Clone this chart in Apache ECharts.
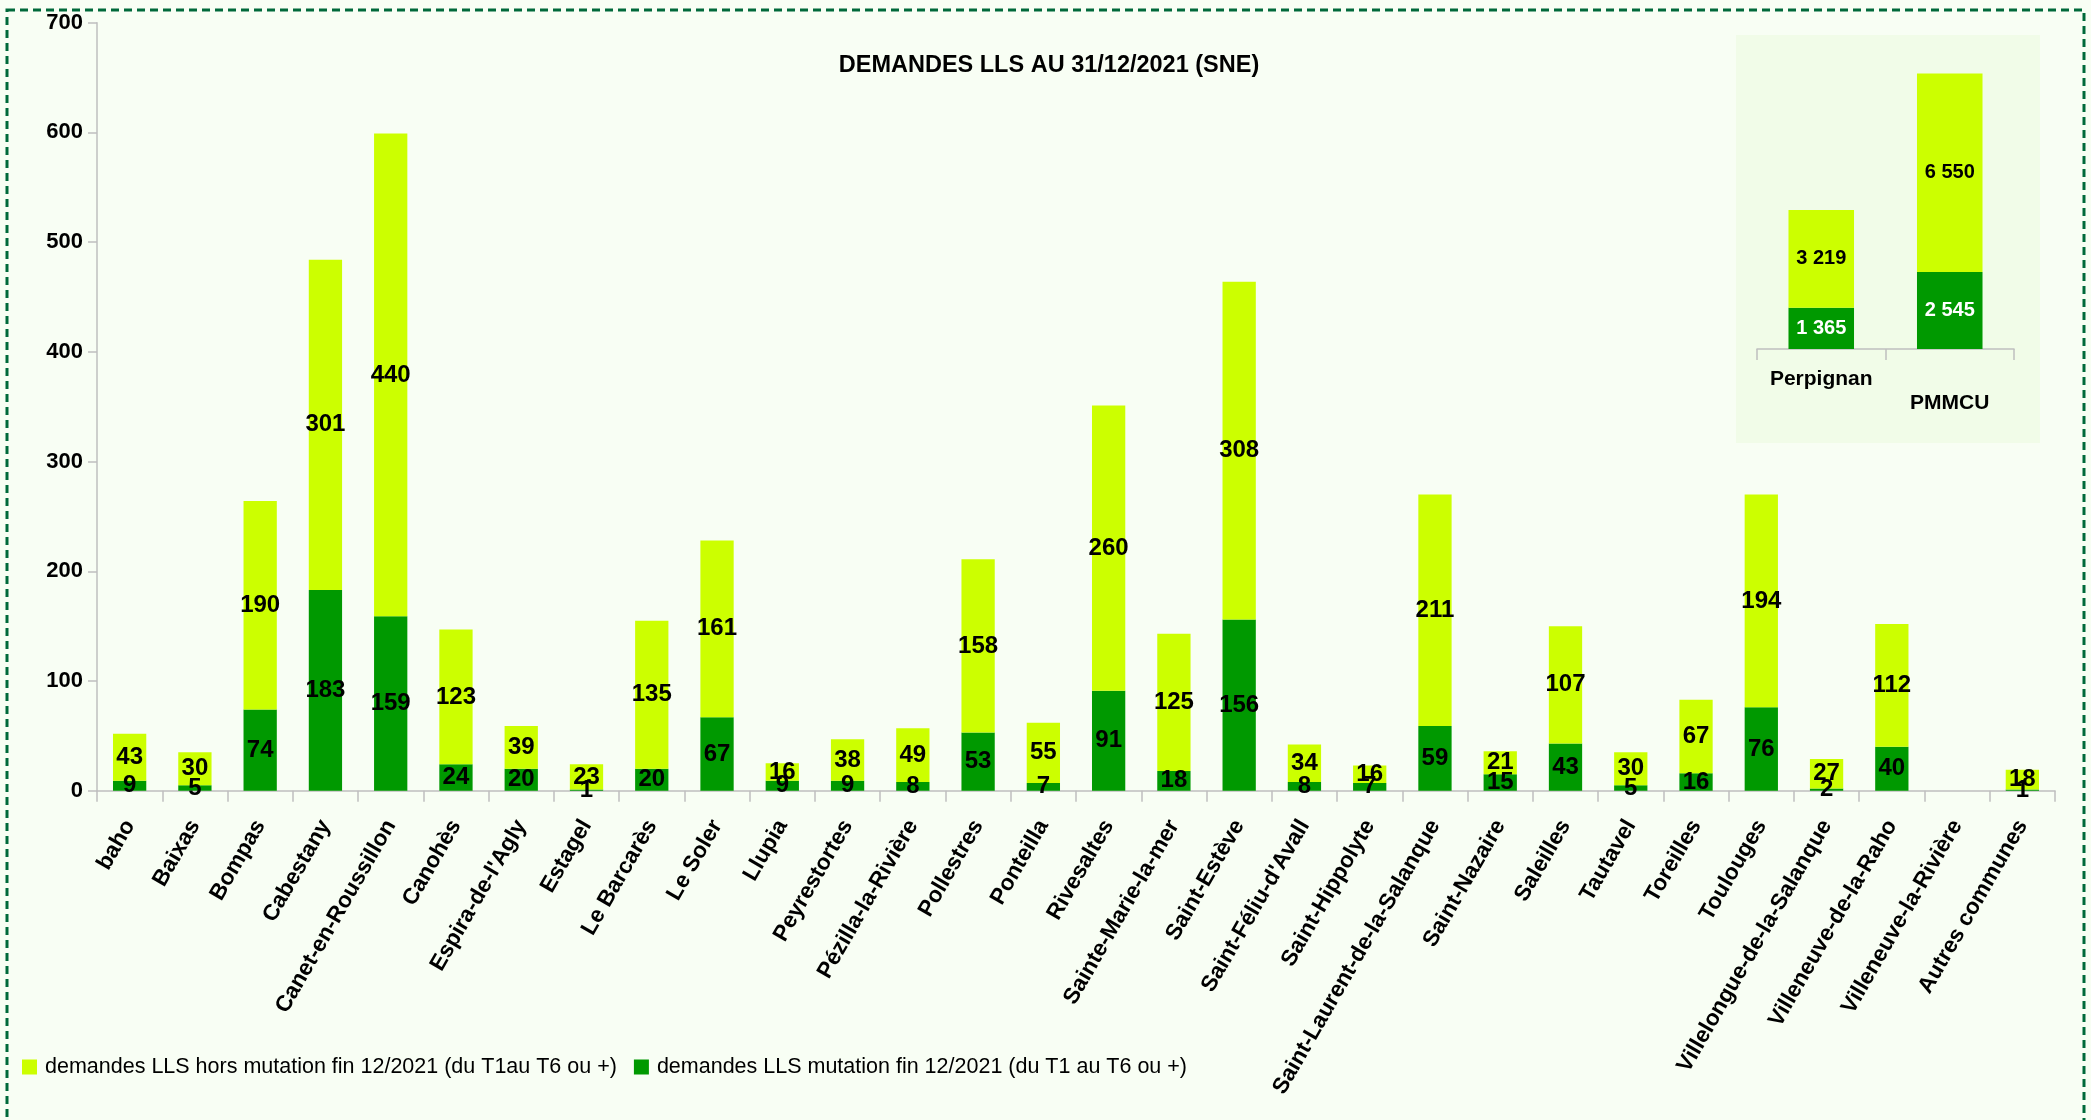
<!DOCTYPE html>
<html>
<head>
<meta charset="utf-8">
<script src="https://cdn.jsdelivr.net/npm/echarts@6/dist/echarts.min.js"></script>
<style>
html,body{margin:0;padding:0;background:#F8FEF4;}
#chart{width:2091px;height:1120px;}
</style>
</head>
<body>
<div id="chart"></div>
<script>
const categories = ['baho','Baixas','Bompas','Cabestany','Canet-en-Roussillon','Canohès','Espira-de-l\'Agly','Estagel','Le Barcarès','Le Soler','Llupia','Peyrestortes','Pézilla-la-Rivière','Pollestres','Ponteilla','Rivesaltes','Sainte-Marie-la-mer','Saint-Estève','Saint-Féliu-d\'Avall','Saint-Hippolyte','Saint-Laurent-de-la-Salanque','Saint-Nazaire','Saleilles','Tautavel','Toreilles','Toulouges','Villelongue-de-la-Salanque','Villeneuve-de-la-Raho','Villeneuve-la-Rivière','Autres communes'];
const mutation = [9,5,74,183,159,24,20,1,20,67,9,9,8,53,7,91,18,156,8,7,59,15,43,5,16,76,2,40,0,1];
const horsMutation = [43,30,190,301,440,123,39,23,135,161,16,38,49,158,55,260,125,308,34,16,211,21,107,30,67,194,27,112,0,18];
const insetCategories = ['Perpignan','PMMCU'];
const insetMutation = [1365,2545];
const insetHorsMutation = [3219,6550];
const yTicks = [0,100,200,300,400,500,600,700];

const seriesNames = ['demandes LLS hors mutation fin 12/2021 (du T1au T6 ou +)','demandes LLS mutation fin 12/2021 (du T1 au T6 ou +)'];
const YELLOW = '#CCFF00', GREEN = '#009900';
const FONT = '"Liberation Sans",Arial,sans-serif';

function fmtThousands(v){ return String(v).replace(/\B(?=(\d{3})+(?!\d))/g,' '); }

const chart = echarts.init(document.getElementById('chart'));
const option = {
  backgroundColor: '#F8FEF4',
  animation: false,
  title: {
    text: 'DEMANDES LLS AU 31/12/2021 (SNE)',
    left: 1044, top: 49, textAlign: 'center',
    textStyle: {fontFamily: FONT, fontSize: 23.5, fontWeight: 'bold', color: '#000'}
  },
  legend: {
    left: 17, top: 1051, itemWidth: 15, itemHeight: 15, itemGap: 17,
    icon: 'rect',
    data: seriesNames,
    textStyle: {fontFamily: FONT, fontSize: 21.5, color: '#000', padding: [0,0,0,3]}
  },
  graphic: [
    {type:'rect', z:-10, shape:{x:1736,y:35,width:304,height:408}, style:{fill:'#F1FCE8'}},
    {type:'rect', z:100, shape:{x:7,y:10,width:2077,height:1200}, style:{fill:'none', stroke:'#00693A', lineWidth:3, lineDash:[8,5]}}
  ],
  grid: [
    {left: 97, right: 36, top: 22.7, bottom: 329.3, outerBoundsMode: 'none', containLabel: false},
    {left: 1757, width: 257, top: 46, bottom: 771, outerBoundsMode: 'none', containLabel: false}
  ],
  xAxis: [
    {
      type: 'category', gridIndex: 0, data: categories,
      axisLine: {lineStyle: {color: '#BFBFBF', width: 1.5}},
      axisTick: {show: true, interval: 0, length: 11, lineStyle: {color: '#BFBFBF', width: 1.5}},
      axisLabel: {interval: 0, rotate: 60, margin: 31, fontFamily: FONT, fontSize: 22.5, fontWeight: 'bold', color: '#000'}
    },
    {
      type: 'category', gridIndex: 1, data: insetCategories,
      axisLine: {lineStyle: {color: '#BFBFBF', width: 1.5}},
      axisTick: {show: true, interval: 0, length: 11, lineStyle: {color: '#BFBFBF', width: 1.5}},
      axisLabel: {interval: 0, margin: 18, lineHeight: 24, fontFamily: FONT, fontSize: 21, fontWeight: 'bold', color: '#000',
        formatter: (v, i) => i % 2 ? '\n' + v : v}
    }
  ],
  yAxis: [
    {
      type: 'value', gridIndex: 0, min: yTicks[0], max: yTicks[yTicks.length-1], interval: 100,
      splitLine: {show: false},
      axisLine: {show: true, lineStyle: {color: '#BFBFBF', width: 1.5}},
      axisTick: {show: true, length: 9, lineStyle: {color: '#BFBFBF', width: 1.5}},
      axisLabel: {margin: 14, fontFamily: FONT, fontSize: 22, fontWeight: 'bold', color: '#000'}
    },
    {
      type: 'value', gridIndex: 1, min: 0, max: 10000, show: false, splitLine: {show: false}
    }
  ],
  series: [
    {
      name: seriesNames[1], type: 'bar', stack: 'a', xAxisIndex: 0, yAxisIndex: 0,
      data: mutation, barWidth: '51%', itemStyle: {color: GREEN},
      label: {show: true, position: 'inside', fontFamily: FONT, fontSize: 24, fontWeight: 'bold', color: '#000',
        formatter: p => p.value ? p.value : ''}
    },
    {
      name: seriesNames[0], type: 'bar', stack: 'a', xAxisIndex: 0, yAxisIndex: 0,
      data: horsMutation, barWidth: '51%', itemStyle: {color: YELLOW},
      label: {show: true, position: 'inside', fontFamily: FONT, fontSize: 24, fontWeight: 'bold', color: '#000',
        formatter: p => p.value ? p.value : ''}
    },
    {
      name: seriesNames[1], type: 'bar', stack: 'b', xAxisIndex: 1, yAxisIndex: 1,
      data: insetMutation, barWidth: '51%', itemStyle: {color: GREEN},
      label: {show: true, position: 'inside', fontFamily: FONT, fontSize: 20, fontWeight: 'bold', color: '#fff',
        formatter: p => fmtThousands(p.value)}
    },
    {
      name: seriesNames[0], type: 'bar', stack: 'b', xAxisIndex: 1, yAxisIndex: 1,
      data: insetHorsMutation, barWidth: '51%', itemStyle: {color: YELLOW},
      label: {show: true, position: 'inside', fontFamily: FONT, fontSize: 20, fontWeight: 'bold', color: '#000',
        formatter: p => fmtThousands(p.value)}
    }
  ]
};
chart.setOption(option);
</script>
</body>
</html>
